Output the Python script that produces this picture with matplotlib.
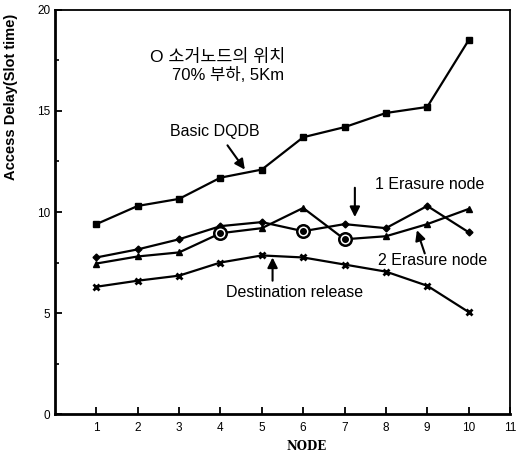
import numpy as np
import matplotlib
matplotlib.use("Agg")
import matplotlib.pyplot as plt

plt.rcParams['font.family'] = ['Liberation Sans', 'Noto Sans CJK KR', 'DejaVu Sans']

# data
nodes = [1, 2, 3, 4, 5, 6, 7, 8, 9, 10]
basic_dqdb = [9.4, 10.3, 10.65, 11.7, 12.1, 13.7, 14.2, 14.9, 15.2, 18.5]
erasure_1 = [7.75, 8.15, 8.65, 9.3, 9.5, 9.05, 9.4, 9.2, 10.3, 9.0]
erasure_2 = [7.45, 7.8, 8.0, 8.95, 9.2, 10.2, 8.65, 8.8, 9.4, 10.15]
dest_release = [6.3, 6.6, 6.85, 7.5, 7.85, 7.75, 7.4, 7.05, 6.35, 5.05]

# erasure node positions (open circles)
erasure_1_pos = [6]
erasure_2_pos = [4, 7]

fig = plt.figure(figsize=(5.29, 4.53), dpi=100)
ax = fig.add_axes([0.104, 0.086, 0.86, 0.892])

kw = dict(color='black', lw=1.6)
ax.plot(nodes, basic_dqdb, marker='s', ms=5, **kw)
ax.plot(nodes, erasure_1, marker='D', ms=3.5, **kw)
ax.plot(nodes, erasure_2, marker='^', ms=4.5, **kw)
ax.plot(nodes, dest_release, marker='x', ms=5, mew=2, **kw)

# circles marking where the erasure nodes are
for pos, series in [(erasure_1_pos, erasure_1), (erasure_2_pos, erasure_2)]:
    ys = [series[nodes.index(p)] for p in pos]
    ax.plot(pos, ys, 'o', ms=9, mfc='white', mec='black', mew=1.8, zorder=3)
    ax.plot(pos, ys, 'o', ms=4, color='black', zorder=4)

ax.set_xlim(0, 11)
ax.set_ylim(0, 20)
ax.set_xticks(range(1, 12))
ax.set_yticks([0, 5, 10, 15, 20])
ax.set_yticks([2.5, 7.5, 12.5, 17.5], minor=True)
ax.tick_params(axis='both', direction='in', length=5, width=1.3, labelsize=8.5)
ax.tick_params(axis='y', which='minor', direction='in', length=3, width=1.2)
ax.tick_params(axis='x', pad=6)

for side in ['left', 'bottom']:
    ax.spines[side].set_linewidth(2.0)
for side in ['top', 'right']:
    ax.spines[side].set_linewidth(1.3)

ax.set_ylabel('Access Delay(Slot time)', fontsize=10.5, fontweight='bold')
ax.yaxis.set_label_coords(-0.082, 0.785)
ax.set_xlabel('NODE', fontsize=8.5, fontweight='bold', family='DejaVu Serif')
ax.xaxis.set_label_coords(0.552, -0.065)

# annotations
ax.text(3.93, 17.67, 'O 소거노드의 위치', fontsize=12.5, ha='center', va='center')
ax.text(4.18, 16.78, '70% 부하, 5Km', fontsize=12, ha='center', va='center')

arrow = dict(arrowstyle='-|>,head_length=0.6,head_width=0.3', color='black', lw=1.5,
             shrinkA=0, shrinkB=0)
ax.text(3.86, 13.96, 'Basic DQDB', fontsize=11.5, ha='center', va='center')
ax.annotate('', xy=(4.59, 12.1), xytext=(4.17, 13.3), arrowprops=arrow)
ax.text(9.06, 11.34, '1 Erasure node', fontsize=11.5, ha='center', va='center')
ax.annotate('', xy=(7.25, 9.75), xytext=(7.25, 11.2), arrowprops=arrow)
ax.text(9.14, 7.62, '2 Erasure node', fontsize=11.5, ha='center', va='center')
ax.annotate('', xy=(8.75, 9.1), xytext=(8.94, 7.95), arrowprops=arrow)
ax.text(5.8, 6.0, 'Destination release', fontsize=11.5, ha='center', va='center')
ax.annotate('', xy=(5.26, 7.75), xytext=(5.26, 6.6), arrowprops=arrow)

fig.savefig('out.png', dpi=100)
